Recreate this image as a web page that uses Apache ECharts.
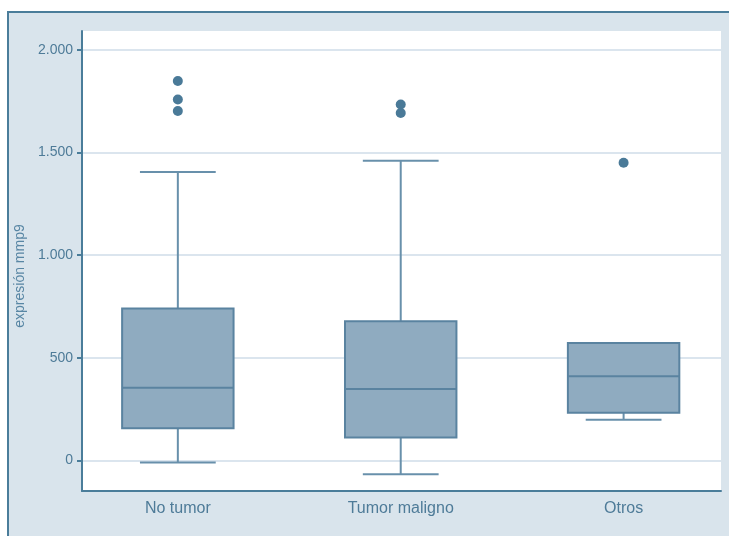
<!DOCTYPE html>
<html>
<head>
<meta charset="utf-8">
<script src="https://cdn.jsdelivr.net/npm/echarts@6/dist/echarts.min.js"></script>
<style>
  html, body { margin: 0; padding: 0; background: #fff; }
  .frame {
    position: absolute; left: 7px; top: 11px; width: 722px; height: 525px;
    background: #d9e4ec;
    border-top: 2px solid #4a7d9a;
    border-left: 2px solid #4a7d9a;
  }
  #main { position: absolute; left: 0; top: 0; width: 729px; height: 536px; }
</style>
</head>
<body>
<div class="frame"></div>
<div id="main"></div>
<script>
// grupos y valores
const categories = ['No tumor', 'Tumor maligno', 'Otros']
const lowWhisker = [-9, -67, 199]
const q1 = [158, 113, 233]
const median = [355, 348, 410]
const q3 = [740, 678, 572]
const highWhisker = [1405, 1460, 572]
const outliers = [
  [0, 1848], [0, 1758], [0, 1702],
  [1, 1733], [1, 1692],
  [2, 1450],
]
const yTicks = [0, 500, 1000, 1500, 2000]

const boxData = categories.map((c, i) => [i, lowWhisker[i], q1[i], median[i], q3[i], highWhisker[i]])

const axisColor = '#4a7d9a'
const textColor = '#4e7b98'
const fontFamily = 'Liberation Sans, Arial, sans-serif'

function fmt(v) {
  return String(v).replace(/\B(?=(\d{3})+(?!\d))/g, '.')
}

function renderBox(params, api) {
  const x = api.value(0)
  const pLow = api.coord([x, api.value(1)])
  const pQ1 = api.coord([x, api.value(2)])
  const pMed = api.coord([x, api.value(3)])
  const pQ3 = api.coord([x, api.value(4)])
  const pHigh = api.coord([x, api.value(5)])
  const boxW = api.size([0.5, 0])[0]
  const capW = api.size([0.34, 0])[0]
  const cx = pMed[0]
  const whiskerStyle = { stroke: '#6890ab', lineWidth: 2 }
  const children = [
    { type: 'line', shape: { x1: cx, y1: pLow[1], x2: cx, y2: pQ1[1] }, style: whiskerStyle },
    { type: 'line', shape: { x1: cx, y1: pQ3[1], x2: cx, y2: pHigh[1] }, style: whiskerStyle },
    { type: 'line', shape: { x1: cx - capW / 2, y1: pLow[1], x2: cx + capW / 2, y2: pLow[1] }, style: whiskerStyle },
  ]
  if (pHigh[1] < pQ3[1] - 1) {
    children.push({ type: 'line', shape: { x1: cx - capW / 2, y1: pHigh[1], x2: cx + capW / 2, y2: pHigh[1] }, style: whiskerStyle })
  }
  children.push({
    type: 'rect',
    shape: { x: cx - boxW / 2, y: pQ3[1], width: boxW, height: pQ1[1] - pQ3[1] },
    style: { fill: '#8fabc0', stroke: '#5a83a0', lineWidth: 2 },
  })
  children.push({
    type: 'line',
    shape: { x1: cx - boxW / 2, y1: pMed[1], x2: cx + boxW / 2, y2: pMed[1] },
    style: { stroke: '#5a83a0', lineWidth: 2 },
  })
  return { type: 'group', children: children }
}

const option = {
  animation: false,
  backgroundColor: 'transparent',
  grid: {
    left: 82,
    right: 8,
    top: 31,
    bottom: 45,
    show: true,
    backgroundColor: '#ffffff',
    borderWidth: 0,
  },
  xAxis: {
    type: 'value',
    min: -0.43,
    max: 2.437,
    axisLine: { onZero: false, lineStyle: { color: axisColor, width: 2 } },
    axisTick: { show: false },
    splitLine: { show: false },
    axisLabel: {
      customValues: [0, 1, 2],
      formatter: (v) => categories[Math.round(v)],
      color: textColor,
      fontFamily: fontFamily,
      fontSize: 16,
      margin: 10,
    },
  },
  yAxis: {
    type: 'value',
    min: -148,
    max: 2091,
    name: 'expresión mmp9',
    nameLocation: 'middle',
    nameGap: 54,
    nameTextStyle: {
      color: '#5886a4',
      fontFamily: fontFamily,
      fontSize: 14,
      padding: [0, 30, 0, 0],
    },
    axisLine: { show: true, onZero: false, lineStyle: { color: axisColor, width: 2 } },
    axisTick: { show: true, length: 5, customValues: yTicks, lineStyle: { color: axisColor, width: 2 } },
    splitLine: { show: true, lineStyle: { color: '#dbe5ee', width: 2 } },
    axisLabel: {
      customValues: yTicks,
      formatter: (v) => fmt(v),
      color: textColor,
      fontFamily: fontFamily,
      fontSize: 14,
      margin: 9,
    },
  },
  series: [
    {
      type: 'custom',
      renderItem: renderBox,
      encode: { x: 0, y: [1, 2, 3, 4, 5] },
      data: boxData,
      z: 3,
    },
    {
      type: 'scatter',
      data: outliers,
      symbolSize: 10,
      itemStyle: { color: '#4a7a98', opacity: 1 },
      z: 4,
    },
  ],
}

const myChart = echarts.init(document.getElementById('main'))
myChart.setOption(option, true)
</script>
</body>
</html>
